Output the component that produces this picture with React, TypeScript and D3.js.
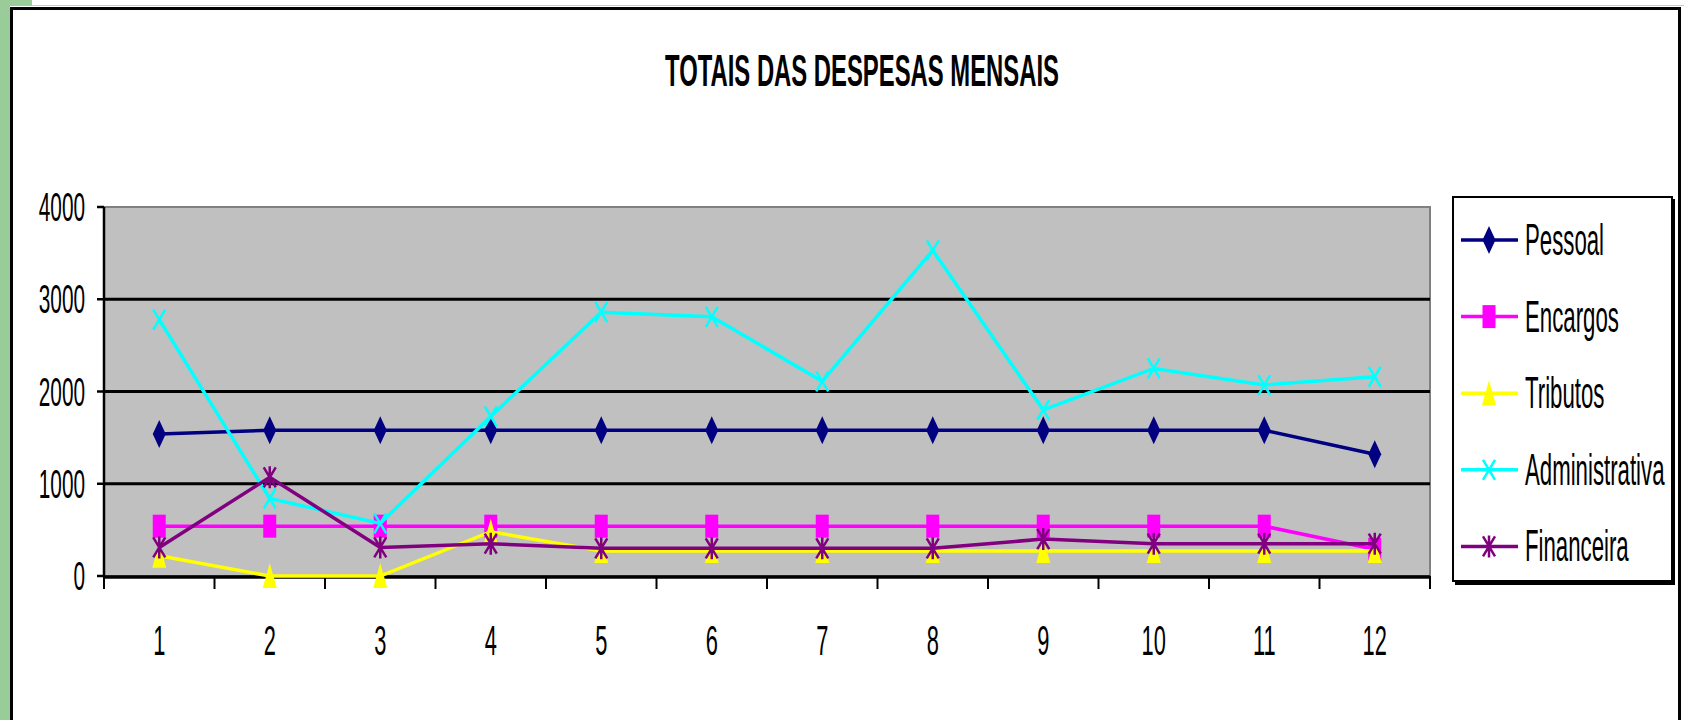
import React from 'react';
import * as d3 from 'd3';

// monthly totals
const months = ['1', '2', '3', '4', '5', '6', '7', '8', '9', '10', '11', '12'];
const pessoal = [1540, 1580, 1580, 1580, 1580, 1580, 1580, 1580, 1580, 1580, 1580, 1320];
const encargos = [540, 540, 540, 540, 540, 540, 540, 540, 540, 540, 540, 290];
const tributos = [220, 0, 0, 480, 270, 270, 270, 270, 270, 270, 270, 270];
const administrativa = [2780, 840, 570, 1730, 2860, 2810, 2110, 3530, 1800, 2250, 2070, 2160];
const financeira = [310, 1070, 310, 350, 300, 300, 300, 300, 400, 350, 350, 350];
const yTicks = [0, 1000, 2000, 3000, 4000];

const series = [
  { name: 'Pessoal', values: pessoal, color: '#000080', marker: 'diamond' },
  { name: 'Encargos', values: encargos, color: '#FF00FF', marker: 'square' },
  { name: 'Tributos', values: tributos, color: '#FFFF00', marker: 'triangle' },
  { name: 'Administrativa', values: administrativa, color: '#00FFFF', marker: 'x' },
  { name: 'Financeira', values: financeira, color: '#800080', marker: 'star' },
];

const W = 1684;
const H = 720;
const plot = { left: 104, right: 1430, top: 207, bottom: 576 };
const font = '"Liberation Sans", Arial, sans-serif';

const Marker = ({ type, color, x, y }) => {
  const t = `translate(${x},${y})`;
  if (type === 'diamond') return <path transform={t} d="M0,-14L6.5,0L0,14L-6.5,0Z" fill={color} />;
  if (type === 'square') return <rect transform={t} x={-6.5} y={-11.5} width={13} height={23} fill={color} />;
  if (type === 'triangle') return <path transform={t} d="M0,-13L7,12L-7,12Z" fill={color} />;
  if (type === 'x')
    return <path transform={t} d="M-6,-10L6,10M6,-10L-6,10" stroke={color} strokeWidth={2.5} fill="none" />;
  return <path transform={t} d="M-6,-10L6,10M6,-10L-6,10M0,-11L0,11" stroke={color} strokeWidth={2.5} fill="none" />;
};

// the original text is horizontally condensed
const SText = ({ x, y, size, anchor = 'start', weight = 'normal', sq = 0.52, children }) => (
  <text
    transform={`translate(${x},${y}) scale(${sq},1)`}
    fontSize={size}
    fontFamily={font}
    fontWeight={weight}
    textAnchor={anchor}
    fill="#000"
  >
    {children}
  </text>
);

export default function App() {
  const x = d3.scaleBand().domain(months).range([plot.left, plot.right]);
  const y = d3.scaleLinear().domain([0, 4000]).range([plot.bottom, plot.top]);
  const cx = (m) => x(m) + x.bandwidth() / 2;

  const line = d3
    .line()
    .x((d, i) => cx(months[i]))
    .y((d) => y(d));

  const bounds = months.map((m) => x(m)).concat([plot.right]);

  return (
    <svg width={W} height={H} style={{ position: 'absolute', left: 0, top: 0 }}>
      <rect width={W} height={H} fill="#fff" />
      {/* page around the embedded chart */}
      <rect x={0} y={0} width={10} height={H} fill="#99CC99" />
      <rect x={0} y={0} width={32} height={6} fill="#99CC99" />
      <line x1={32} x2={W} y1={5.5} y2={5.5} stroke="#c8c8c8" strokeWidth={1} />
      <rect x={11.5} y={8.5} width={1668} height={H + 20} fill="#fff" stroke="#000" strokeWidth={3} />

      <SText x={862} y={86} size={45} anchor="middle" weight="bold" sq={0.53}>
        TOTAIS DAS DESPESAS MENSAIS
      </SText>

      {/* plot area */}
      <rect
        x={plot.left}
        y={plot.top}
        width={plot.right - plot.left}
        height={plot.bottom - plot.top}
        fill="#C0C0C0"
        stroke="#808080"
        strokeWidth={2}
      />
      {yTicks.slice(1, -1).map((t) => (
        <line key={t} x1={plot.left} x2={plot.right} y1={y(t)} y2={y(t)} stroke="#000" strokeWidth={3} />
      ))}
      <line x1={plot.left} x2={plot.left} y1={plot.top} y2={plot.bottom} stroke="#000" strokeWidth={2.5} />
      <line x1={plot.left - 1} x2={plot.right} y1={plot.bottom + 1} y2={plot.bottom + 1} stroke="#000" strokeWidth={3.5} />

      {yTicks.map((t) => (
        <g key={t}>
          <line x1={plot.left - 7} x2={plot.left} y1={y(t)} y2={y(t)} stroke="#000" strokeWidth={2.5} />
          <SText x={85} y={y(t) + 14} size={40} anchor="end">
            {t}
          </SText>
        </g>
      ))}
      {bounds.map((b, i) => (
        <line key={i} x1={b} x2={b} y1={plot.bottom} y2={plot.bottom + 13} stroke="#000" strokeWidth={2} />
      ))}
      {months.map((m) => (
        <SText key={m} x={cx(m)} y={655} size={42} anchor="middle">
          {m}
        </SText>
      ))}

      {series.map((s) => (
        <g key={s.name}>
          <path d={line(s.values)} fill="none" stroke={s.color} strokeWidth={3.5} />
          {s.values.map((v, i) => (
            <Marker key={i} type={s.marker} color={s.color} x={cx(months[i])} y={y(v)} />
          ))}
        </g>
      ))}

      {/* legend */}
      <rect x={1455} y={199} width={220} height={386} fill="#000" />
      <rect x={1453} y={197} width={219} height={384} fill="#fff" stroke="#000" strokeWidth={2} />
      {series.map((s, i) => {
        const ly = 240 + i * 76.6;
        return (
          <g key={s.name}>
            <line x1={1461} x2={1518} y1={ly} y2={ly} stroke={s.color} strokeWidth={3.5} />
            <Marker type={s.marker} color={s.color} x={1489} y={ly} />
            <SText x={1525} y={ly + 15} size={44} sq={0.505}>
              {s.name}
            </SText>
          </g>
        );
      })}
    </svg>
  );
}
